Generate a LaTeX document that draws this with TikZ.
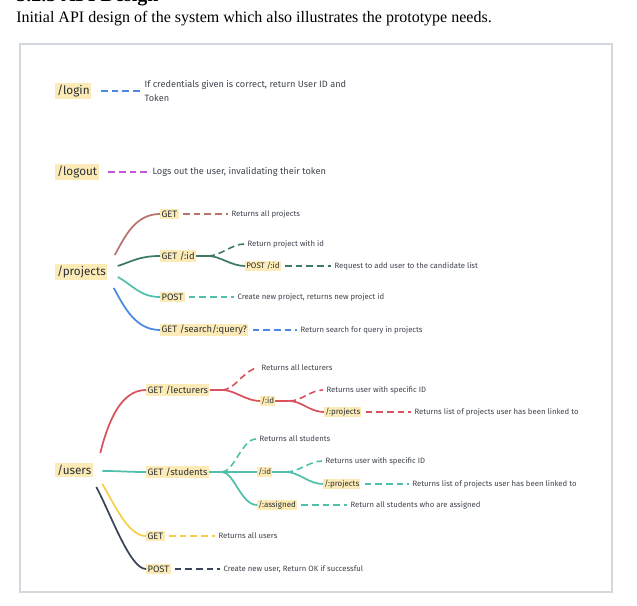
\documentclass[tikz,border=0pt]{standalone}
\usepackage{fontspec}
\setmainfont{Liberation Serif}
\newfontfamily\apifont{Fira Sans}
\usepackage{tikz}
\usetikzlibrary{positioning,calc}

\definecolor{hilite}{HTML}{FCEBB6}
\definecolor{desctext}{HTML}{3E434D}
\definecolor{labeltext}{HTML}{2B2F36}
\definecolor{loginblue}{HTML}{4A88E2}
\definecolor{logoutpink}{HTML}{C453D9}
\definecolor{getbrown}{HTML}{B8736C}
\definecolor{idgreen}{HTML}{3D7A61}
\definecolor{postteal}{HTML}{50C0AA}
\definecolor{lectred}{HTML}{D9525E}
\definecolor{getyellow}{HTML}{F6CE48}
\definecolor{postslate}{HTML}{3B4557}
\definecolor{framegray}{HTML}{D3D8DF}

\begin{document}
\begin{tikzpicture}[x=0.75pt,y=-0.75pt,
	root/.style={anchor=west, fill=hilite, text=labeltext, inner sep=1.3pt, font=\apifont\fontsize{8.8}{10}\selectfont},
	route/.style={anchor=west, fill=hilite, text=labeltext, inner sep=1pt, font=\apifont\fontsize{7}{8.5}\selectfont},
	subroute/.style={anchor=west, fill=hilite, text=labeltext, inner sep=0.8pt, font=\apifont\fontsize{6}{7.5}\selectfont},
	desc/.style={anchor=west, text=desctext, inner sep=1pt, align=left, font=\apifont\fontsize{5.8}{7}\selectfont},
	bigdesc/.style={desc, font=\apifont\fontsize{6.9}{9.8}\selectfont},
	branch/.style={line width=1.3pt},
	link/.style={line width=1.2pt, dash pattern=on 5pt off 3pt, shorten <=3pt, shorten >=1.5pt}]

	\useasboundingbox (0,0) rectangle (637,606);

	% Heading and caption
	\node[anchor=base west, inner sep=0, font=\bfseries\fontsize{15}{17}\selectfont] (heading) at (16,2) {3.2.3 API Design};
	\node[anchor=base west, inner sep=0, font=\fontsize{12}{14}\selectfont] (caption) at (16,23) {Initial API design of the system which also illustrates the prototype needs.};
	\draw[framegray, line width=0.8pt] (20,44) rectangle (612,592);

	% Login
	\node[root] (login) at (55,91) {/login};
	\node[bigdesc] (logindesc) at (143,91) {If credentials given is correct, return User ID and\\Token};
	\draw[link, loginblue, shorten <=7pt] (login.east) -- (logindesc.west);

	% Logout
	\node[root] (logout) at (55,172) {/logout};
	\node[bigdesc] (logoutdesc) at (151,172) {Logs out the user, invalidating their token};
	\draw[link, logoutpink, shorten <=7pt] (logout.east) -- (logoutdesc.west);

	% Projects
	\node[root] (projects) at (55,272) {/projects};
	\node[route] (pget) at (160,214) {GET};
	\node[route] (pgetid) at (160,256) {GET /:id};
	\node[route] (ppost) at (160,297) {POST};
	\node[route] (psearch) at (160,330) {GET /search/:query?};
	\draw[branch, getbrown] ([shift={(7,-17)}]projects.east) .. controls +(10,-18) and +(-25,0) .. (pget.west);
	\draw[branch, idgreen] ([shift={(10,-6)}]projects.east) .. controls +(15,-5) and +(-20,0) .. (pgetid.west);
	\draw[branch, postteal] ([shift={(10,5)}]projects.east) .. controls +(15,8) and +(-20,0) .. (ppost.west);
	\draw[branch, loginblue] ([shift={(6,16)}]projects.east) .. controls +(10,18) and +(-25,0) .. (psearch.west);

	\node[desc] (pgetdesc) at (230,214) {Returns all projects};
	\draw[link, getbrown] (pget.east) -- (pgetdesc.west);

	\coordinate (pidfork) at ([shift={(12,0)}]pgetid.east);
	\node[desc] (piddesc) at (246,244) {Return project with id};
	\node[subroute] (ppostid) at (245,266) {POST /:id};
	\node[desc] (ppostiddesc) at (333,266) {Request to add user to the candidate list};
	\draw[branch, idgreen] (pgetid.east) -- (pidfork);
	\draw[link, idgreen, shorten <=0pt] (pidfork) .. controls +(12,0) and +(-14,0) .. (piddesc.west);
	\draw[branch, idgreen] (pidfork) .. controls +(12,0) and +(-14,0) .. (ppostid.west);
	\draw[link, idgreen] (ppostid.east) -- (ppostiddesc.west);

	\node[desc] (ppostdesc) at (236,297) {Create new project, returns new project id};
	\draw[link, postteal] (ppost.east) -- (ppostdesc.west);

	\node[desc] (psearchdesc) at (299,330) {Return search for query in projects};
	\draw[link, loginblue] (psearch.east) -- (psearchdesc.west);

	% Users
	\node[root] (users) at (55,470) {/users};
	\node[route] (lect) at (146,390) {GET /lecturers};
	\node[route] (stud) at (146,472) {GET /students};
	\node[route] (uget) at (146,536) {GET};
	\node[route] (upost) at (146,569) {POST};
	\draw[branch, lectred] ([shift={(7,-17)}]users.east) .. controls +(8,-32) and +(-25,0) .. (lect.west);
	\draw[branch, postteal] ([shift={(9,1)}]users.east) .. controls +(20,0) and +(-20,0) .. (stud.west);
	\draw[branch, getyellow] ([shift={(9,14)}]users.east) .. controls +(12,20) and +(-18,0) .. (uget.west);
	\draw[branch, postslate] ([shift={(3,17)}]users.east) .. controls +(15,28) and +(-16,0) .. (upost.west);

	% Lecturers
	\coordinate (lectfork) at ([shift={(13,0)}]lect.east);
	\node[desc] (lectdesc) at (260,368) {Returns all lecturers};
	\node[subroute] (lid) at (260,401) {/:id};
	\draw[branch, lectred] (lect.east) -- (lectfork);
	\draw[link, lectred, shorten <=0pt] (lectfork) .. controls +(12,0) and +(-14,0) .. (lectdesc.west);
	\draw[branch, lectred] (lectfork) .. controls +(12,0) and +(-14,0) .. (lid.west);

	\coordinate (lidfork) at ([shift={(14,0)}]lid.east);
	\node[desc] (liddesc) at (325,390) {Returns user with specific ID};
	\node[subroute] (lproj) at (324,412) {/:projects};
	\node[desc] (lprojdesc) at (413,412) {Returns list of projects user has been linked to};
	\draw[branch, lectred] (lid.east) -- (lidfork);
	\draw[link, lectred, shorten <=0pt] (lidfork) .. controls +(12,0) and +(-14,0) .. (liddesc.west);
	\draw[branch, lectred] (lidfork) .. controls +(12,0) and +(-14,0) .. (lproj.west);
	\draw[link, lectred] (lproj.east) -- (lprojdesc.west);

	% Students
	\coordinate (studfork) at ([shift={(13,0)}]stud.east);
	\node[desc] (studdesc) at (258,439) {Returns all students};
	\node[subroute] (sid) at (257,472) {/:id};
	\node[subroute] (sassigned) at (257,505) {/:assigned};
	\draw[branch, postteal] (stud.east) -- (studfork);
	\draw[link, postteal, shorten <=0pt] (studfork) .. controls +(12,0) and +(-16,0) .. (studdesc.west);
	\draw[branch, postteal] (studfork) -- (sid.west);
	\draw[branch, postteal] (studfork) .. controls +(12,0) and +(-16,0) .. (sassigned.west);

	\coordinate (sidfork) at ([shift={(14,0)}]sid.east);
	\node[desc] (siddesc) at (324,461) {Returns user with specific ID};
	\node[subroute] (sproj) at (323,484) {/:projects};
	\node[desc] (sprojdesc) at (411,484) {Returns list of projects user has been linked to};
	\draw[branch, postteal] (sid.east) -- (sidfork);
	\draw[link, postteal, shorten <=0pt] (sidfork) .. controls +(12,0) and +(-14,0) .. (siddesc.west);
	\draw[branch, postteal] (sidfork) .. controls +(12,0) and +(-14,0) .. (sproj.west);
	\draw[link, postteal] (sproj.east) -- (sprojdesc.west);

	\node[desc] (sassigneddesc) at (349,505) {Return all students who are assigned};
	\draw[link, postteal] (sassigned.east) -- (sassigneddesc.west);

	% Get and post
	\node[desc] (ugetdesc) at (217,536) {Returns all users};
	\draw[link, getyellow] (uget.east) -- (ugetdesc.west);
	\node[desc] (upostdesc) at (222,569) {Create new user, Return OK if successful};
	\draw[link, postslate] (upost.east) -- (upostdesc.west);
\end{tikzpicture}
\end{document}
